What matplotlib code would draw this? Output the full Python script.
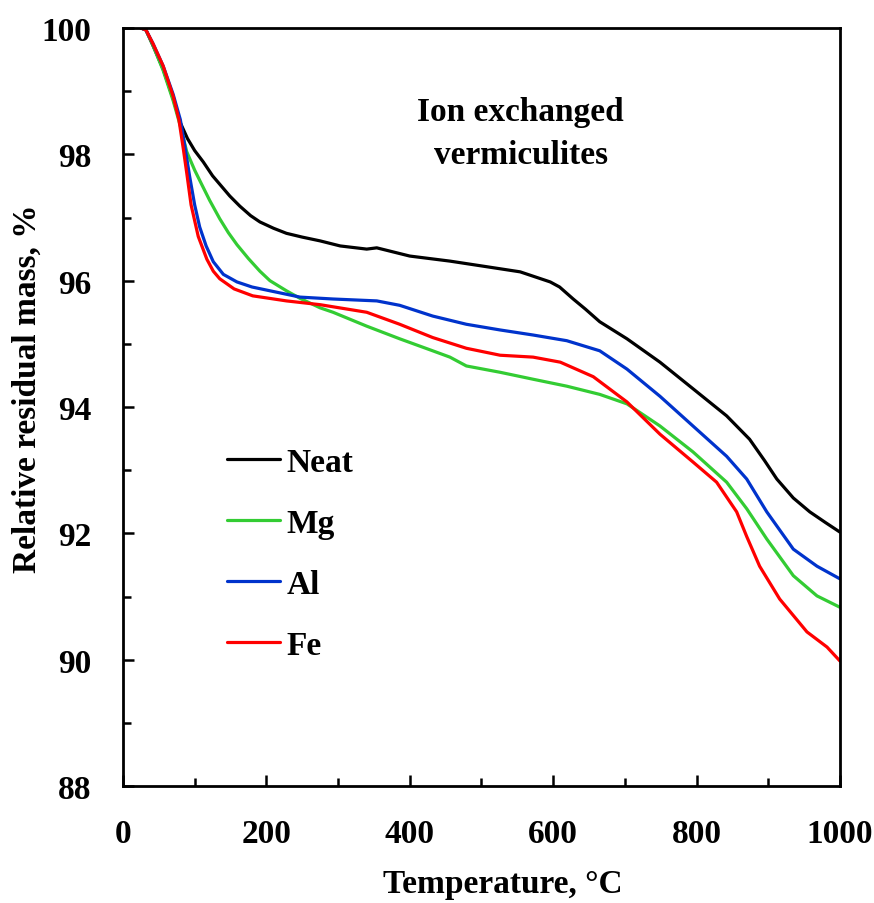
import matplotlib
matplotlib.use("Agg")
import matplotlib.pyplot as plt
from matplotlib.ticker import MultipleLocator

plt.rcParams["font.family"] = ["Liberation Serif", "DejaVu Serif"]
plt.rcParams["font.weight"] = "bold"

# Thermogravimetric curves (temperature in °C, residual mass in %)
t_neat = [25, 32, 42, 56, 70, 80, 90, 100, 112, 125, 137, 149, 163, 178, 191, 210, 228, 250,
          275, 303, 340, 354, 400, 456, 508, 554, 596, 609, 628, 645, 665, 703, 749, 795,
          842, 874, 895, 912, 935, 958, 980, 1000]
m_neat = [100, 99.97, 99.72, 99.35, 98.88, 98.5, 98.25, 98.06, 97.88, 97.66, 97.5, 97.34,
          97.18, 97.03, 96.93, 96.83, 96.75, 96.69, 96.63, 96.55, 96.50, 96.52, 96.39,
          96.31, 96.22, 96.14, 95.98, 95.9, 95.71, 95.55, 95.35, 95.08, 94.71, 94.29,
          93.86, 93.49, 93.15, 92.86, 92.56, 92.34, 92.17, 92.02]

t_mg = [25, 32, 42, 56, 70, 80, 89, 100, 110, 121, 135, 147, 159, 175, 191, 205, 228, 247,
        275, 293, 340, 386, 432, 456, 479, 526, 572, 619, 665, 703, 749, 795, 842, 870, 898,
        935, 968, 1000]
m_mg = [100, 99.97, 99.72, 99.33, 98.85, 98.45, 98.04, 97.75, 97.52, 97.27, 96.98, 96.76,
        96.57, 96.35, 96.15, 96.0, 95.84, 95.72, 95.57, 95.5, 95.28, 95.08, 94.89, 94.79,
        94.65, 94.55, 94.44, 94.33, 94.2, 94.05, 93.7, 93.29, 92.81, 92.39, 91.91, 91.33,
        91.01, 90.83]

t_al = [25, 32, 42, 56, 70, 80, 86, 93, 100, 107, 116, 126, 140, 159, 180, 205, 247, 293,
        354, 386, 432, 479, 526, 572, 619, 665, 703, 749, 795, 842, 870, 898, 935, 968, 1000]
m_al = [100, 99.97, 99.75, 99.4, 98.95, 98.55, 98.15, 97.65, 97.2, 96.85, 96.55, 96.3,
        96.1, 95.98, 95.9, 95.84, 95.74, 95.71, 95.68, 95.61, 95.44, 95.31, 95.22, 95.14,
        95.05, 94.89, 94.6, 94.17, 93.7, 93.22, 92.86, 92.34, 91.75, 91.48, 91.28]

t_fe = [25, 32, 42, 56, 70, 78, 84, 89, 95, 105, 117, 126, 135, 155, 181, 228, 275, 340,
        386, 432, 479, 526, 572, 610, 656, 703, 749, 795, 828, 856, 870, 888, 916, 954, 982,
        1000]
m_fe = [100, 99.97, 99.75, 99.4, 98.92, 98.55, 98.1, 97.7, 97.2, 96.7, 96.34, 96.15, 96.03,
        95.87, 95.76, 95.68, 95.62, 95.5, 95.31, 95.1, 94.93, 94.82, 94.79, 94.71, 94.48,
        94.08, 93.57, 93.13, 92.81, 92.34, 91.95, 91.48, 90.96, 90.44, 90.2, 89.98]

series = [
    ("Neat", t_neat, m_neat, "#000000"),
    ("Mg", t_mg, m_mg, "#33CC33"),
    ("Al", t_al, m_al, "#0033CC"),
    ("Fe", t_fe, m_fe, "#FF0000"),
]

FS = 24

fig = plt.figure(figsize=(8.74, 9.04), dpi=100)
ax = fig.add_axes([0.1407, 0.1294, 0.8203, 0.8385])

for label, t, m, color in series:
    ax.plot(t, m, color=color, lw=2.3, label=label, solid_capstyle="round")

ax.set_xlim(0, 1000)
ax.set_ylim(88, 100)
ax.xaxis.set_major_locator(MultipleLocator(200))
ax.xaxis.set_minor_locator(MultipleLocator(100))
ax.yaxis.set_major_locator(MultipleLocator(2))
ax.yaxis.set_minor_locator(MultipleLocator(1))

for side in ax.spines.values():
    side.set_linewidth(2.0)

ax.tick_params(which="both", direction="in", top=False, right=False, width=1.8,
               labelsize=FS, pad=23)
ax.tick_params(which="major", length=8)
ax.tick_params(which="minor", length=6)
for lbl in ax.get_xticklabels() + ax.get_yticklabels():
    lbl.set_fontweight("bold")

ax.set_xlabel("Temperature, °C", fontsize=FS, fontweight="bold")
ax.set_ylabel("Relative residual mass, %", fontsize=FS, fontweight="bold")
ax.xaxis.label.set_verticalalignment("center")
ax.yaxis.label.set_verticalalignment("center")
ax.yaxis.label.set_horizontalalignment("center")
ax.xaxis.set_label_coords(0.53, -0.129)
ax.yaxis.set_label_coords(-0.134, 0.525)

ax.text(0.555, 0.861, "Ion exchanged\nvermiculites", transform=ax.transAxes,
        ha="center", va="center", fontsize=FS, fontweight="bold", linespacing=1.5)

leg = ax.legend(loc="center left", bbox_to_anchor=(0.145, 0.306), frameon=False,
                prop={"size": FS, "weight": "bold"}, handlelength=1.6,
                handletextpad=0.18, labelspacing=0.9, borderpad=0, borderaxespad=0)

fig.savefig("out.png", dpi=100)
